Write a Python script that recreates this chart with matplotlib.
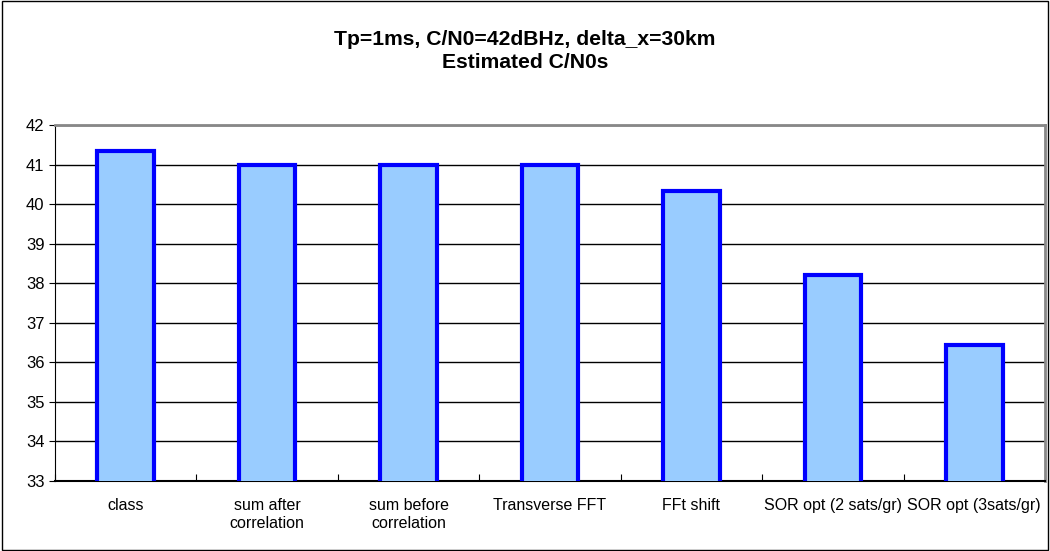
import numpy as np
import matplotlib.pyplot as plt
from matplotlib.patches import Rectangle

plt.rcParams['font.family'] = ['Liberation Sans', 'DejaVu Sans']

categories = ['class', 'sum after\ncorrelation', 'sum before\ncorrelation',
              'Transverse FFT', 'FFt shift', 'SOR opt (2 sats/gr)', 'SOR opt (3sats/gr)']
values = [41.35, 41.0, 41.0, 41.0, 40.32, 38.22, 36.45]
yticks = list(range(33, 43))

fig = plt.figure(figsize=(10.5, 5.51), dpi=100)
ax = fig.add_axes([55 / 1050, 1 - 481 / 551, 990 / 1050, 356 / 551])

x = np.arange(len(categories))
ax.bar(x, values, width=0.4, bottom=0, color='#99ccff', edgecolor='#0000ff',
       linewidth=3, zorder=3)
ax.set_ylim(33, 42)
ax.set_xlim(-0.5, len(categories) - 0.5)
ax.set_yticks(yticks)
ax.set_yticklabels([str(t) for t in yticks], fontsize=12)
ax.yaxis.grid(True, color='black', linewidth=1, zorder=0)
ax.set_axisbelow(True)

# category boundary ticks
ax.set_xticks(np.arange(-0.5, len(categories), 1.0))
ax.set_xticklabels([])
ax.set_xticks(x, minor=True)
ax.set_xticklabels(categories, minor=True, fontsize=11.5, linespacing=1.3)
ax.tick_params(axis='x', which='minor', length=0, pad=12)
ax.tick_params(axis='x', which='major', length=5, direction='in', color='black')
ax.tick_params(axis='y', length=4, direction='out')

for side in ['top', 'right']:
    ax.spines[side].set_color('#888888')
    ax.spines[side].set_linewidth(2)
ax.spines['left'].set_color('black')
ax.spines['bottom'].set_color('black')
ax.spines['bottom'].set_linewidth(1.5)

fig.text(0.5, 1 - 51 / 551, 'Tp=1ms, C/N0=42dBHz, delta_x=30km\nEstimated C/N0s',
         ha='center', va='center', fontsize=15.2, fontweight='bold', linespacing=1.3)

fig.patches.append(Rectangle((0.002, 0.002), 0.996, 0.996, transform=fig.transFigure,
                             fill=False, edgecolor='black', linewidth=1))

fig.savefig('out.png', dpi=100)
